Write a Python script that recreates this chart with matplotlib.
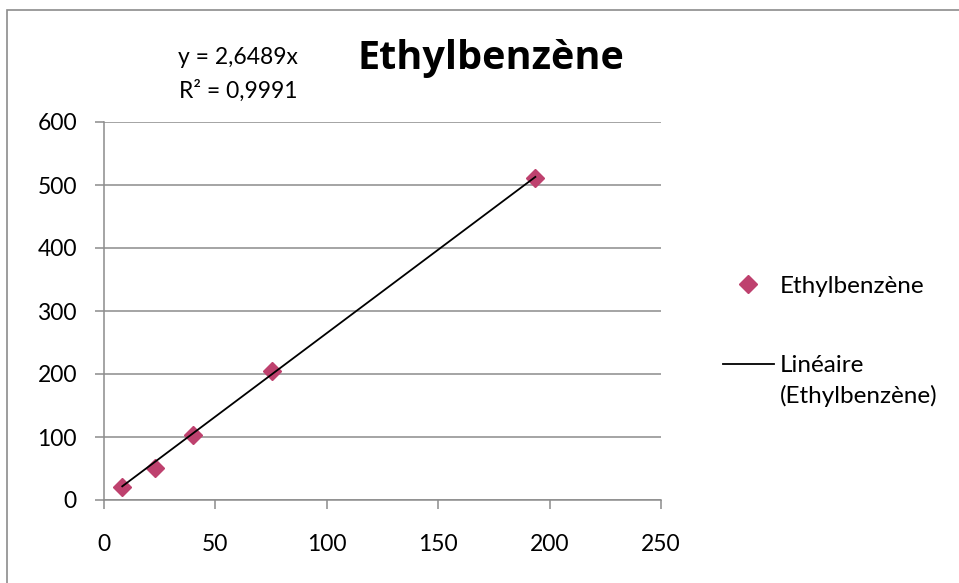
import matplotlib
matplotlib.use("Agg")
import matplotlib.pyplot as plt
from matplotlib.lines import Line2D
from matplotlib.patches import Rectangle
import numpy as np

# ---- data ----
x_vals = [8.2, 23.0, 40.0, 75.4, 193.6]
y_vals = [20.4, 51.0, 102.7, 205.0, 511.6]
slope = 2.6489
series_name = "Ethylbenzène"
trend_lines = ["Linéaire", "(Ethylbenzène)"]
eq_lines = ["y = 2,6489x", "R² = 0,9991"]
x_ticks = [0, 50, 100, 150, 200, 250]
y_ticks = [0, 100, 200, 300, 400, 500, 600]

plt.rcParams['font.family'] = ['Lato', 'DejaVu Sans']

W, H = 959, 583
fig = plt.figure(figsize=(W / 100, H / 100), dpi=100)
ax = fig.add_axes([104 / W, 1 - 500 / H, (661 - 104) / W, (500 - 122) / H])

marker_color = '#BE416E'
grid_color = '#8C8C8C'

xt = np.array([min(x_vals), max(x_vals)])
ax.plot(xt, slope * xt, color='black', lw=1.3, zorder=3)
ax.plot(x_vals, y_vals, linestyle='none', marker='D', ms=9.3,
        color=marker_color, mec=marker_color, zorder=2)

ax.set_xlim(0, 250)
ax.set_ylim(0, 600)
ax.set_xticks(x_ticks)
ax.set_yticks(y_ticks)
ax.set_xticklabels([str(v) for v in x_ticks])
ax.set_yticklabels([str(v) for v in y_ticks])
ax.grid(axis='y', color=grid_color, lw=1.1)
ax.set_axisbelow(True)
for s in ['top', 'right']:
    ax.spines[s].set_visible(False)
for s in ['left', 'bottom']:
    ax.spines[s].set_color(grid_color)
    ax.spines[s].set_linewidth(1.1)
ax.tick_params(axis='y', direction='out', length=6.5, width=1.1, color=grid_color,
               labelsize=16.5, pad=13, labelcolor='black')
ax.tick_params(axis='x', direction='out', length=6.5, width=1.1, color=grid_color,
               labelsize=16.5, pad=18, labelcolor='black')

# title and equation
fig.text(491 / W, 1 - 69.5 / H, series_name, ha='center', va='baseline',
         fontsize=28.5, fontweight='bold', family=['Open Sans', 'DejaVu Sans'])
fig.text(238 / W, 1 - 64.3 / H, eq_lines[0], ha='center', va='baseline', fontsize=16.5)
fig.text(238 / W, 1 - 98.3 / H, eq_lines[1], ha='center', va='baseline', fontsize=16.5)

# legend (manual)
fig.add_artist(Line2D([748 / W], [1 - 284 / H], marker='D', ms=8.7,
                      color=marker_color, transform=fig.transFigure))
fig.text(780 / W, 1 - 292.7 / H, series_name, ha='left', va='baseline', fontsize=17.5)
fig.add_artist(Line2D([723 / W, 774 / W], [1 - 364 / H, 1 - 364 / H],
                      color='black', lw=1.3, transform=fig.transFigure))
fig.text(780 / W, 1 - 371.7 / H, trend_lines[0], ha='left', va='baseline', fontsize=17.5)
fig.text(780 / W, 1 - 403.3 / H, trend_lines[1], ha='left', va='baseline', fontsize=17.5)

# chart border
fig.add_artist(Rectangle((7 / W, -0.1), 2.0, (583 - 10) / H + 0.1,
                         transform=fig.transFigure, fill=False,
                         edgecolor='#8C8C8C', lw=1.2))

fig.savefig('out.png', dpi=100)
